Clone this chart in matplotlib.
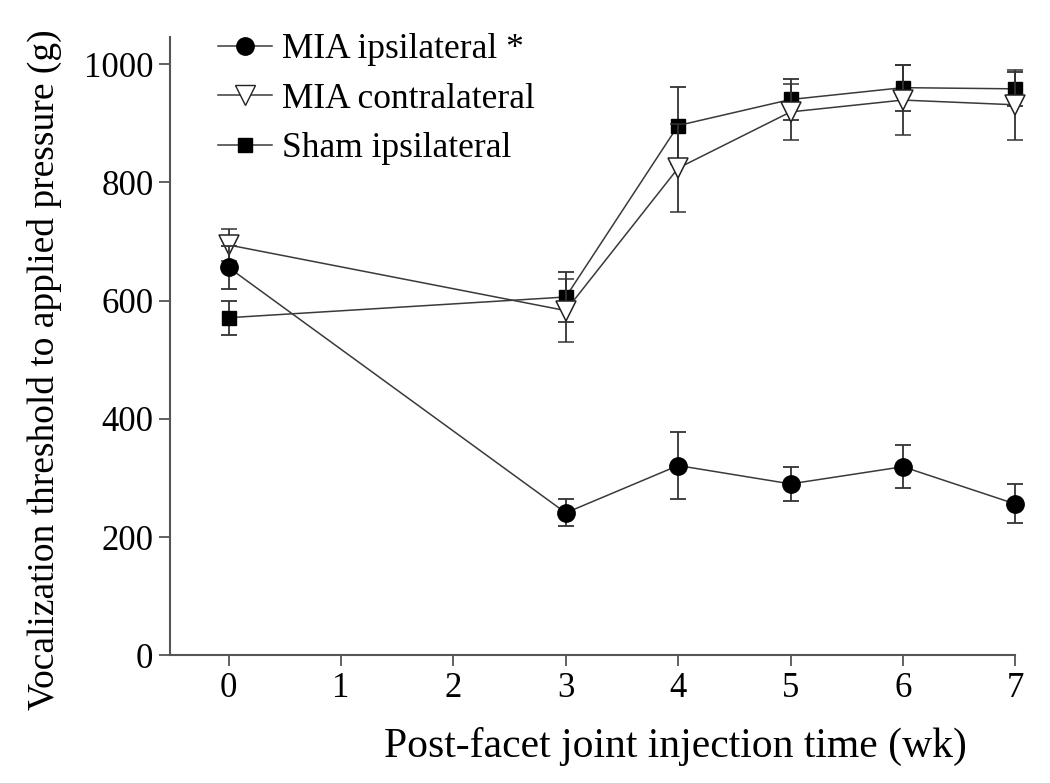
import matplotlib
matplotlib.use("Agg")
import matplotlib.pyplot as plt
from matplotlib.lines import Line2D

# weeks after injection
weeks = [0, 3, 4, 5, 6, 7]

# MIA ipsilateral
mia_ipsi = [656, 241, 321, 290, 319, 256]
mia_ipsi_err = [37, 23, 57, 29, 36, 33]

# MIA contralateral
mia_contra = [694, 583, 824, 919, 939, 931]
mia_contra_err = [27, 53, 74, 47, 59, 59]

# Sham ipsilateral
sham_ipsi = [571, 606, 896, 940, 960, 958]
sham_ipsi_err = [29, 42, 65, 35, 39, 29]

x_ticks = [0, 1, 2, 3, 4, 5, 6, 7]
y_ticks = [0, 200, 400, 600, 800, 1000]

plt.rcParams['font.family'] = ['Liberation Serif', 'DejaVu Serif']

fig = plt.figure(figsize=(10.5, 7.83), dpi=100)
ax = fig.add_axes([0.162, 0.163, 0.805, 0.790])

line_col = '#3a3a3a'
err_kw = dict(ecolor='#333333', elinewidth=1.3, capsize=6, capthick=1.3)

series = [
    (sham_ipsi, sham_ipsi_err, dict(marker='s', ms=10, mfc='black', mec='black'), 3),
    (mia_contra, mia_contra_err, dict(marker='v', ms=14, mfc='white', mec='#222222', mew=1.1), 4),
    (mia_ipsi, mia_ipsi_err, dict(marker='o', ms=12.5, mfc='black', mec='black'), 5),
]
for vals, errs, mk, z in series:
    cont = ax.errorbar(weeks, vals, yerr=errs, color=line_col, lw=1.1, zorder=z, **mk, **err_kw)
    for art in cont.get_children():
        art.set_clip_on(False)

ax.set_xlim(-0.52, 7.0)
ax.set_ylim(0, 1046)
ax.set_xticks(x_ticks)
ax.set_yticks(y_ticks)
ax.tick_params(axis='both', direction='out', length=8, width=1.3, color='#555555',
               labelsize=25, pad=4)

for side in ['top', 'right']:
    ax.spines[side].set_visible(False)
for side in ['left', 'bottom']:
    ax.spines[side].set_color('#555555')
    ax.spines[side].set_linewidth(1.5)

ax.set_xlabel('Post-facet joint injection time (wk)', fontsize=30)
ax.xaxis.set_label_coords(0.598, -0.115)
ax.set_ylabel('Vocalization threshold to applied pressure (g)', fontsize=27)
ax.yaxis.set_label_coords(-0.128, 0.462)

handles = [
    Line2D([], [], color=line_col, lw=1.1, marker='o', ms=12.5, mfc='black', mec='black'),
    Line2D([], [], color=line_col, lw=1.1, marker='v', ms=14, mfc='white', mec='#222222'),
    Line2D([], [], color=line_col, lw=1.1, marker='s', ms=10, mfc='black', mec='black'),
]
labels = ['MIA ipsilateral *', 'MIA contralateral', 'Sham ipsilateral']
ax.legend(handles, labels, loc='upper left', bbox_to_anchor=(0.181, 0.994),
          bbox_transform=fig.transFigure, frameon=False, fontsize=25.5,
          handlelength=1.5, handletextpad=0.31, labelspacing=0.47, borderpad=0.3)

fig.savefig('out.png', dpi=100)
